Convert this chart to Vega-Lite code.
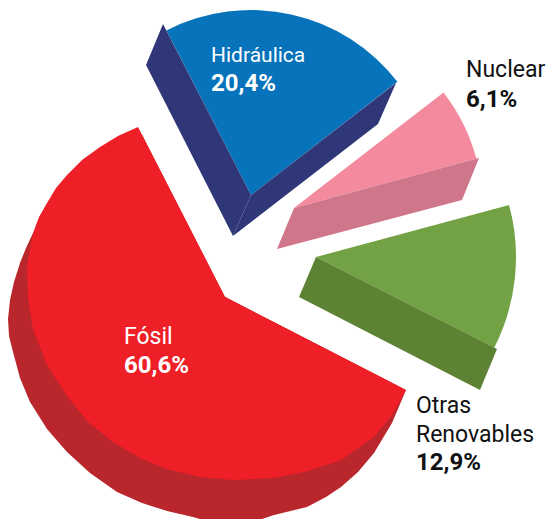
{
"$schema":"https://vega.github.io/schema/vega-lite/v6.json",
"width":548,"height":519,"padding":0,"autosize":{"type":"none"},
"background":"white",
"config":{"view":{"stroke":null}},
"datasets":{
"slices":[
{"fuente":"Fósil","share":60.6,"cx":225,"cy":297,"a0":117.2,"a1":332.9,"r":183},
{"fuente":"Hidráulica","share":20.4,"cx":251,"cy":195,"a0":332.8,"a1":412.3,"r":185},
{"fuente":"Nuclear","share":6.1,"cx":294,"cy":208,"a0":52.3,"a1":74.9,"r":189},
{"fuente":"Otras Renovables","share":12.9,"cx":316,"cy":257,"a0":74.9,"a1":117,"r":200}
],
"rim":[
{"fuente":"Fósil","i":0,"x":225,"y":297},{"fuente":"Fósil","i":1,"x":406,"y":390},{"fuente":"Fósil","i":2,"x":392,"y":415},{"fuente":"Fósil","i":3,"x":374,"y":437},{"fuente":"Fósil","i":4,"x":341,"y":460},{"fuente":"Fósil","i":5,"x":308,"y":471},{"fuente":"Fósil","i":6,"x":274,"y":478},{"fuente":"Fósil","i":7,"x":233,"y":480},{"fuente":"Fósil","i":8,"x":200,"y":477},{"fuente":"Fósil","i":9,"x":167,"y":469},{"fuente":"Fósil","i":10,"x":140,"y":458},{"fuente":"Fósil","i":11,"x":113,"y":442},{"fuente":"Fósil","i":12,"x":88,"y":422},{"fuente":"Fósil","i":13,"x":67,"y":396},{"fuente":"Fósil","i":14,"x":47,"y":365},{"fuente":"Fósil","i":15,"x":33,"y":329},{"fuente":"Fósil","i":16,"x":28,"y":298},{"fuente":"Fósil","i":17,"x":27,"y":267},{"fuente":"Fósil","i":18,"x":33,"y":233},{"fuente":"Fósil","i":19,"x":39,"y":217},{"fuente":"Fósil","i":20,"x":47,"y":203},{"fuente":"Fósil","i":21,"x":56,"y":188},{"fuente":"Fósil","i":22,"x":67,"y":175},{"fuente":"Fósil","i":23,"x":82,"y":160},{"fuente":"Fósil","i":24,"x":100,"y":147},{"fuente":"Fósil","i":25,"x":118,"y":136},{"fuente":"Fósil","i":26,"x":138,"y":127}
],
"walls":[
{"fuente":"Fósil","part":"r","i":1,"x":33,"y":233},{"fuente":"Fósil","part":"r","i":2,"x":26,"y":248},{"fuente":"Fósil","part":"r","i":3,"x":20,"y":263},{"fuente":"Fósil","part":"r","i":4,"x":14,"y":282},{"fuente":"Fósil","part":"r","i":5,"x":10,"y":300},{"fuente":"Fósil","part":"r","i":6,"x":8,"y":319},{"fuente":"Fósil","part":"r","i":7,"x":9,"y":336},{"fuente":"Fósil","part":"r","i":8,"x":13,"y":352},{"fuente":"Fósil","part":"r","i":9,"x":20,"y":378},{"fuente":"Fósil","part":"r","i":10,"x":30,"y":402},{"fuente":"Fósil","part":"r","i":11,"x":47,"y":429},{"fuente":"Fósil","part":"r","i":12,"x":67,"y":452},{"fuente":"Fósil","part":"r","i":13,"x":90,"y":473},{"fuente":"Fósil","part":"r","i":14,"x":117,"y":492},{"fuente":"Fósil","part":"r","i":15,"x":142,"y":503},{"fuente":"Fósil","part":"r","i":16,"x":167,"y":511},{"fuente":"Fósil","part":"r","i":17,"x":193,"y":517},{"fuente":"Fósil","part":"r","i":18,"x":200,"y":519},{"fuente":"Fósil","part":"r","i":19,"x":262,"y":519},{"fuente":"Fósil","part":"r","i":20,"x":274,"y":515},{"fuente":"Fósil","part":"r","i":21,"x":307,"y":507},{"fuente":"Fósil","part":"r","i":22,"x":326,"y":497},{"fuente":"Fósil","part":"r","i":23,"x":341,"y":487},{"fuente":"Fósil","part":"r","i":24,"x":358,"y":472},{"fuente":"Fósil","part":"r","i":25,"x":374,"y":453},{"fuente":"Fósil","part":"r","i":26,"x":392,"y":423},{"fuente":"Fósil","part":"r","i":27,"x":406,"y":390},{"fuente":"Fósil","part":"r","i":28,"x":225,"y":297},
{"fuente":"Hidráulica","part":"bl","i":1,"x":163,"y":24},{"fuente":"Hidráulica","part":"bl","i":2,"x":146,"y":65},{"fuente":"Hidráulica","part":"bl","i":3,"x":233,"y":236},{"fuente":"Hidráulica","part":"bl","i":4,"x":251,"y":195},
{"fuente":"Hidráulica","part":"br","i":1,"x":251,"y":195},{"fuente":"Hidráulica","part":"br","i":2,"x":233,"y":236},{"fuente":"Hidráulica","part":"br","i":3,"x":378,"y":124},{"fuente":"Hidráulica","part":"br","i":4,"x":396,"y":83},
{"fuente":"Nuclear","part":"n","i":1,"x":294,"y":208},{"fuente":"Nuclear","part":"n","i":2,"x":277,"y":249},{"fuente":"Nuclear","part":"n","i":3,"x":462,"y":200},{"fuente":"Nuclear","part":"n","i":4,"x":479,"y":158},
{"fuente":"Otras Renovables","part":"o","i":1,"x":316,"y":257},{"fuente":"Otras Renovables","part":"o","i":2,"x":299,"y":297},{"fuente":"Otras Renovables","part":"o","i":3,"x":480,"y":390},{"fuente":"Otras Renovables","part":"o","i":4,"x":497,"y":349}
],
"labels":[
{"fuente":"Fósil","t":"Fósil","kind":"name","x":124,"y":344},
{"fuente":"Fósil","t":"60,6%","kind":"pct","x":124,"y":373},
{"fuente":"Hidráulica","t":"Hidráulica","kind":"nameS","x":211,"y":62},
{"fuente":"Hidráulica","t":"20,4%","kind":"pct","x":211,"y":91},
{"fuente":"Nuclear","t":"Nuclear","kind":"name","x":466,"y":77},
{"fuente":"Nuclear","t":"6,1%","kind":"pct","x":466,"y":107},
{"fuente":"Otras Renovables","t":"Otras","kind":"name","x":416,"y":413},
{"fuente":"Otras Renovables","t":"Renovables","kind":"name","x":416,"y":442},
{"fuente":"Otras Renovables","t":"12,9%","kind":"pct","x":416,"y":470}
]
},
"layer":[
{"data":{"name":"slices"},
 "mark":{"type":"arc"},
 "encoding":{
  "x":{"field":"cx","type":"quantitative","scale":{"domain":[0,548],"nice":false,"zero":false},"axis":null},
  "y":{"field":"cy","type":"quantitative","scale":{"domain":[519,0],"nice":false,"zero":false},"axis":null},
  "theta":{"field":"a0","type":"quantitative","stack":null,"scale":{"type":"linear","domain":[0,360],"range":[0,6.283185307]}},
  "theta2":{"field":"a1"},
  "radius":{"field":"r","type":"quantitative","scale":{"type":"linear","domain":[0,259.5],"range":[0,259.5]}},
  "color":{"field":"fuente","type":"nominal","legend":null,"scale":{"domain":["Fósil","Hidráulica","Nuclear","Otras Renovables"],"range":["#ee1f26","#0673ba","#f48a9e","#73a244"]}}
 }},
{"data":{"name":"walls"},
 "mark":{"type":"line","filled":true,"interpolate":"linear","strokeWidth":0},
 "encoding":{
  "x":{"field":"x","type":"quantitative","scale":{"domain":[0,548],"nice":false,"zero":false},"axis":null},
  "y":{"field":"y","type":"quantitative","scale":{"domain":[519,0],"nice":false,"zero":false},"axis":null},
  "order":{"field":"i","type":"quantitative"},
  "detail":{"field":"part"},
  "color":{"field":"fuente","type":"nominal","legend":null,"scale":{"domain":["Fósil","Hidráulica","Nuclear","Otras Renovables"],"range":["#b9272d","#2f3779","#d0768a","#5d8234"]}}
 }},
{"data":{"name":"rim"},
 "mark":{"type":"line","filled":true,"interpolate":"linear","strokeWidth":0},
 "encoding":{
  "x":{"field":"x","type":"quantitative","scale":{"domain":[0,548],"nice":false,"zero":false},"axis":null},
  "y":{"field":"y","type":"quantitative","scale":{"domain":[519,0],"nice":false,"zero":false},"axis":null},
  "order":{"field":"i","type":"quantitative"},
  "color":{"field":"fuente","type":"nominal","legend":null,"scale":{"domain":["Fósil"],"range":["#ee1f26"]}}
 }},
{"data":{"name":"labels"},
 "transform":[{"filter":"datum.kind==='name'"}],
 "mark":{"type":"text","align":"left","baseline":"alphabetic","font":"Roboto","fontSize":23},
 "encoding":{
  "x":{"field":"x","type":"quantitative","scale":{"domain":[0,548],"nice":false,"zero":false},"axis":null},
  "y":{"field":"y","type":"quantitative","scale":{"domain":[519,0],"nice":false,"zero":false},"axis":null},
  "text":{"field":"t"},
  "color":{"field":"fuente","type":"nominal","legend":null,"scale":{"domain":["Fósil","Hidráulica","Nuclear","Otras Renovables"],"range":["#ffffff","#ffffff","#111111","#111111"]}}
 }},
{"data":{"name":"labels"},
 "transform":[{"filter":"datum.kind==='nameS'"}],
 "mark":{"type":"text","align":"left","baseline":"alphabetic","font":"Roboto","fontSize":21,"color":"#ffffff"},
 "encoding":{
  "x":{"field":"x","type":"quantitative","scale":{"domain":[0,548],"nice":false,"zero":false},"axis":null},
  "y":{"field":"y","type":"quantitative","scale":{"domain":[519,0],"nice":false,"zero":false},"axis":null},
  "text":{"field":"t"}
 }},
{"data":{"name":"labels"},
 "transform":[{"filter":"datum.kind==='pct'"}],
 "mark":{"type":"text","align":"left","baseline":"alphabetic","font":"Roboto","fontSize":24,"fontWeight":"bold"},
 "encoding":{
  "x":{"field":"x","type":"quantitative","scale":{"domain":[0,548],"nice":false,"zero":false},"axis":null},
  "y":{"field":"y","type":"quantitative","scale":{"domain":[519,0],"nice":false,"zero":false},"axis":null},
  "text":{"field":"t"},
  "color":{"field":"fuente","type":"nominal","legend":null,"scale":{"domain":["Fósil","Hidráulica","Nuclear","Otras Renovables"],"range":["#ffffff","#ffffff","#111111","#111111"]}}
 }}
],
"resolve":{"scale":{"color":"independent"}}
}
